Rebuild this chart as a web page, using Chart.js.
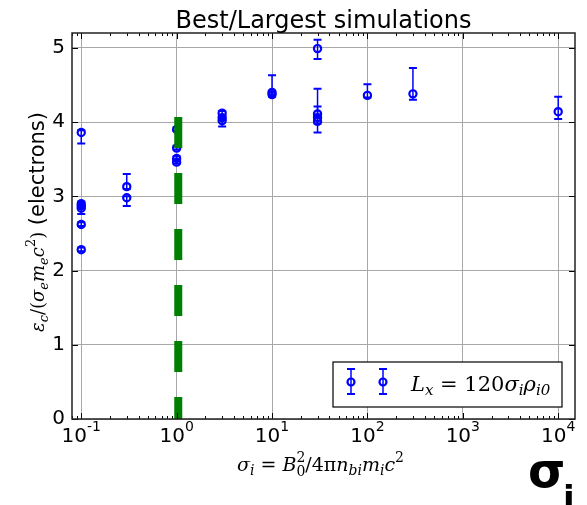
<!DOCTYPE html>
<html>
<head>
<meta charset="utf-8">
<script src="https://cdn.jsdelivr.net/npm/chart.js@4.4.1/dist/chart.umd.min.js"></script>
<style>
  html, body { margin: 0; padding: 0; background: #fff; }
</style>
</head>
<body>
<canvas id="chart1" width="587" height="505"></canvas>
<script>
// sigma_i of each run and the measured eps_c/(sigma_e m_e c^2)
const sigma   = [0.1, 0.1, 0.1, 0.1, 0.1, 0.1, 0.3, 0.3, 1, 1, 1, 1, 3, 3, 3, 10, 10, 30, 30, 30, 30, 100, 300, 10000];
const epsC    = [3.86, 2.90, 2.87, 2.84, 2.62, 2.28, 3.13, 2.98, 3.90, 3.65, 3.51, 3.46, 4.12, 4.06, 4.02, 4.40, 4.37, 4.99, 4.11, 4.06, 4.01, 4.36, 4.38, 4.14];
const errLow  = [3.71, 2.86, 2.84, 2.76, 2.60, 2.26, 3.10, 2.87, 3.88, 3.63, 3.49, 3.44, 4.09, 4.03, 3.94, 4.37, 4.34, 4.85, 4.08, 3.98, 3.86, 4.33, 4.30, 4.04];
const errHigh = [3.89, 2.93, 2.90, 2.87, 2.65, 2.31, 3.30, 3.00, 3.93, 3.68, 3.54, 3.49, 4.15, 4.09, 4.05, 4.63, 4.40, 5.11, 4.21, 4.09, 4.45, 4.51, 4.73, 4.34];

// green dashed marker at sigma_i = 1
const markerX = [1.04, 1.04];
const markerY = [4.07, 0];

const xTickValues = [0.1, 1, 10, 100, 1000, 10000];
const xTickExps = ['-1', '0', '1', '2', '3', '4'];
const yTickValues = [0, 1, 2, 3, 4, 5];

const SERIF = '"DejaVu Serif"';
const SANS = '"DejaVu Sans"';

function richText(ctx, parts, x, y, draw) {
    let cx = x, prevStart = x;
    parts.forEach(p => {
        ctx.font = p.f;
        const start = p.back ? prevStart : cx;
        if (draw) ctx.fillText(p.t, start, y + (p.dy || 0));
        const end = start + ctx.measureText(p.t).width;
        cx = p.back ? Math.max(cx, end) : end;
        prevStart = start;
    });
    return cx - x;
}
function richCenter(ctx, parts, cx, y) {
    const w = richText(ctx, parts, 0, 0, false);
    richText(ctx, parts, cx - w / 2, y, true);
}

const it = s => 'italic ' + s + 'px ' + SERIF;
const rm = s => s + 'px ' + SERIF;

const xLabelParts = [
    {t: 'σ', f: it(19)}, {t: 'i', f: it(14), dy: 4},
    {t: ' = ', f: rm(19)},
    {t: 'B', f: it(19)}, {t: '0', f: rm(14), dy: 5}, {t: '2', f: rm(14), dy: -9, back: true},
    {t: '/4π', f: rm(19)}, {t: 'n', f: it(19)}, {t: 'bi', f: it(14), dy: 4},
    {t: 'm', f: it(19)}, {t: 'i', f: it(14), dy: 4},
    {t: 'c', f: it(19)}, {t: '2', f: rm(14), dy: -9}
];
const yLabelParts = [
    {t: 'ε', f: it(18)}, {t: 'c', f: it(13), dy: 4},
    {t: '/(', f: rm(18)}, {t: 'σ', f: it(18)}, {t: 'e', f: it(13), dy: 4},
    {t: 'm', f: it(18)}, {t: 'e', f: it(13), dy: 4},
    {t: 'c', f: it(18)}, {t: '2', f: rm(13), dy: -9}, {t: ')', f: rm(18)},
    {t: ' (electrons)', f: '21px ' + SANS}
];
const legendParts = [
    {t: 'L', f: it(21)}, {t: 'x', f: it(15), dy: 4},
    {t: ' = 120', f: rm(21)}, {t: 'σ', f: it(21)}, {t: 'i', f: it(15), dy: 4},
    {t: 'ρ', f: it(21)}, {t: 'i0', f: it(15), dy: 4}
];

function errorBar(ctx, px, lo, hi) {
    ctx.lineWidth = 1.5;
    ctx.beginPath(); ctx.moveTo(px, lo); ctx.lineTo(px, hi); ctx.stroke();
    ctx.lineWidth = 2;
    ctx.beginPath();
    ctx.moveTo(px - 4, lo); ctx.lineTo(px + 4, lo);
    ctx.moveTo(px - 4, hi); ctx.lineTo(px + 4, hi);
    ctx.stroke();
}

const errorBars = {
    id: 'errorBars',
    beforeDatasetsDraw(chart) {
        const {ctx, scales: {x, y}} = chart;
        ctx.save();
        ctx.strokeStyle = '#0000ff';
        sigma.forEach((s, i) => {
            errorBar(ctx, x.getPixelForValue(s), y.getPixelForValue(errLow[i]), y.getPixelForValue(errHigh[i]));
        });
        ctx.restore();
    }
};

const frame = {
    id: 'frame',
    afterDatasetsDraw(chart) {
        const {ctx, chartArea: a, scales: {x, y}} = chart;
        ctx.save();
        ctx.strokeStyle = '#000';
        ctx.lineWidth = 1;
        // inward ticks on x, majors and minors
        ctx.beginPath();
        for (let e = -2; e <= 4; e++) {
            for (let k = 1; k <= 9; k++) {
                const v = k * Math.pow(10, e);
                if (v < x.min || v > x.max) continue;
                const px = Math.round(x.getPixelForValue(v)) + 0.5;
                const len = k === 1 ? 6 : 3;
                ctx.moveTo(px, a.bottom); ctx.lineTo(px, a.bottom - len);
                ctx.moveTo(px, a.top); ctx.lineTo(px, a.top + len);
            }
        }
        yTickValues.forEach(v => {
            const py = Math.round(y.getPixelForValue(v)) + 0.5;
            ctx.moveTo(a.left, py); ctx.lineTo(a.left + 6, py);
            ctx.moveTo(a.right, py); ctx.lineTo(a.right - 6, py);
        });
        ctx.stroke();
        ctx.lineWidth = 1.5;
        ctx.strokeStyle = '#222';
        ctx.strokeRect(a.left, a.top, a.right - a.left, a.bottom - a.top);
        ctx.restore();
    }
};

const texts = {
    id: 'texts',
    afterDraw(chart) {
        const {ctx, chartArea: a, scales: {x}} = chart;
        ctx.save();
        ctx.fillStyle = '#000';
        ctx.textBaseline = 'alphabetic';
        ctx.textAlign = 'left';

        // x tick labels as 10 with a raised exponent
        xTickValues.forEach((v, i) => {
            const parts = [
                {t: '10', f: '20px ' + SANS},
                {t: xTickExps[i], f: '14px ' + SANS, dy: -11}
            ];
            richCenter(ctx, parts, x.getPixelForValue(v), 442);
        });

        // title
        ctx.font = '24px ' + SANS;
        const tw = ctx.measureText('Best/Largest simulations').width;
        ctx.fillText('Best/Largest simulations', (a.left + a.right) / 2 - tw / 2, 28);

        // axis labels
        richCenter(ctx, xLabelParts, (a.left + a.right) / 2 - 3, 471);
        ctx.save();
        ctx.translate(44, 222);
        ctx.rotate(-Math.PI / 2);
        richCenter(ctx, yLabelParts, 0, 0);
        ctx.restore();

        // legend
        const bx = a.right - 242, by = a.bottom - 57, bw = 229, bh = 45;
        ctx.fillStyle = '#fff';
        ctx.fillRect(bx, by, bw, bh);
        ctx.strokeStyle = '#000';
        ctx.lineWidth = 1.2;
        ctx.strokeRect(bx, by, bw, bh);
        ctx.strokeStyle = '#0000ff';
        [bx + 18, bx + 50].forEach(px => {
            errorBar(ctx, px, by + 7, by + 32);
            ctx.lineWidth = 2.2;
            ctx.beginPath(); ctx.arc(px, by + 20, 3.5, 0, Math.PI * 2); ctx.stroke();
        });
        ctx.fillStyle = '#000';
        richText(ctx, legendParts, bx + 78, by + 29, true);

        // big sigma_i in the corner
        ctx.font = 'bold 48px ' + SANS;
        ctx.fillText('σ', 528, 487);
        ctx.font = 'bold 34px ' + SANS;
        ctx.fillText('i', 563, 510);
        ctx.restore();
    }
};

const data = {
    datasets: [
        {
            type: 'line',
            label: 'sigma_i = 1',
            data: markerX.map((v, i) => ({x: v, y: markerY[i]})),
            borderColor: '#008000',
            borderWidth: 8,
            borderDash: [31, 25],
            borderCapStyle: 'butt',
            pointRadius: 0,
            fill: false,
            order: 0
        },
        {
            type: 'scatter',
            label: 'L_x = 120 sigma_i rho_i0',
            data: sigma.map((s, i) => ({x: s, y: epsC[i]})),
            pointRadius: 3.6,
            borderWidth: 2.2,
            borderColor: '#0000ff',
            backgroundColor: 'rgba(0,0,0,0)',
            pointHoverRadius: 3.6,
            order: 1
        }
    ]
};

const options = {
    responsive: false,
    animation: false,
    layout: { padding: { top: 33, right: 12, left: 0, bottom: 0 } },
    plugins: {
        legend: { display: false },
        tooltip: { enabled: false },
        title: { display: false }
    },
    scales: {
        x: {
            type: 'logarithmic',
            min: 0.08,
            max: 15000,
            afterBuildTicks: s => { s.ticks = xTickValues.map(v => ({value: v})); },
            afterFit: s => { s.height = 86; },
            ticks: { display: false, autoSkip: false, maxRotation: 0 },
            grid: { color: '#a8a8a8', lineWidth: 1, drawTicks: false },
            border: { display: false }
        },
        y: {
            type: 'linear',
            min: 0,
            max: 5.2,
            afterBuildTicks: s => { s.ticks = yTickValues.map(v => ({value: v})); },
            afterFit: s => { s.width = 72; },
            ticks: {
                font: { family: 'DejaVu Sans', size: 20 },
                color: '#000',
                padding: 7
            },
            grid: { color: '#a8a8a8', lineWidth: 1, drawTicks: false },
            border: { display: false }
        }
    }
};

const ctx = document.getElementById('chart1').getContext('2d');
const myChart = new Chart(ctx, {
    type: 'scatter',
    data: data,
    options: options,
    plugins: [errorBars, frame, texts]
});
</script>
</body>
</html>
